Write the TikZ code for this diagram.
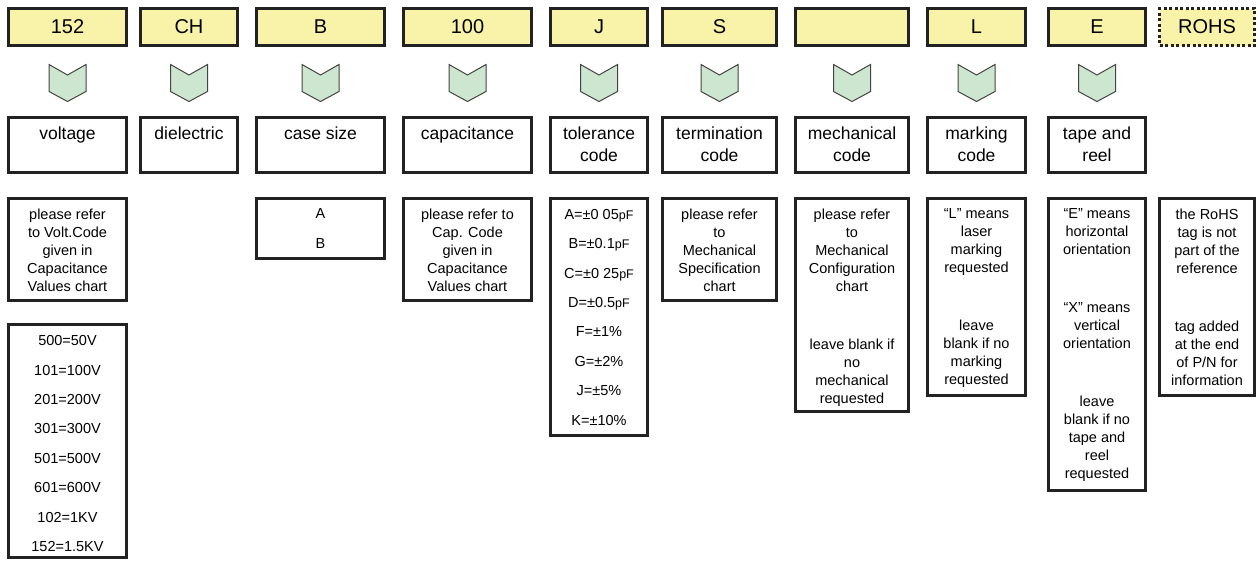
\documentclass[tikz,border=0pt]{standalone}
\usepackage{fontspec}
\setmainfont{Liberation Sans}
\usetikzlibrary{positioning, calc}

\definecolor{codeyellow}{RGB}{248,243,168}
\definecolor{arrowgreen}{RGB}{205,230,207}
\definecolor{edgegray}{RGB}{34,34,34}

\newcommand{\unitpf}{{\fontsize{12.5}{12.5}\selectfont pF}}

\tikzset{
	codebox/.style={draw=edgegray, line width=3pt, fill=codeyellow, minimum height=37pt, inner sep=0pt, font=\fontsize{20}{24}\selectfont},
	namebox/.style={draw=edgegray, line width=3pt, minimum height=55pt, inner sep=0pt},
	nametext/.style={align=center, inner sep=0pt, anchor=north, font=\fontsize{17.5}{22}\selectfont},
	infobox/.style={draw=edgegray, line width=3pt, inner sep=0pt},
	infotext/.style={align=center, inner sep=0pt, anchor=north, font=\fontsize{14.5}{18}\selectfont},
	listtext/.style={infotext, font=\fontsize{14.5}{29.4}\selectfont},
	chevron/.style={draw=edgegray!85, line width=1pt, fill=arrowgreen, line join=miter}
}

\begin{document}
\begin{tikzpicture}[x=1pt, y=-1pt]
	\useasboundingbox (0,0) rectangle (1258,560);
	
	% code boxes, chevrons and names
	\foreach \cx/\w/\code/\lbl [count=\i] in {67.5/118/152/voltage, 189/97/CH/dielectric,
		320.5/128/B/case size, 467.5/128/100/capacitance, 599/97/J/tolerance\\code,
		719.5/114/S/termination\\code, 852/113//mechanical\\code, 976.5/98/L/marking\\code,
		1097/97/E/tape and\\reel} {
		\node [codebox, minimum width=\w pt] (c\i) at (\cx,27) {\code};
		\node [namebox, minimum width=\w pt] (l\i) at (\cx,145) {};
		\node [nametext] (t\i) at ($(l\i.north)+(0,11)$) {\lbl};
		\draw [chevron] (c\i.south) ++(-18.5,17.5) -- ++(18.5,10.5) -- ++(18.5,-10.5)
		-- ++(0,27) -- ++(-18.5,10) -- ++(-18.5,-10) -- cycle;
	}
	\node [codebox, minimum width=95pt, dash pattern=on 3pt off 2.5pt] (c10) at (1207,27) {ROHS};
	
	% description boxes
	\node [infobox, minimum width=118pt, minimum height=102pt] (d1) at (67.5,249.5) {};
	\node [infobox, minimum width=118pt, minimum height=233pt] (v1) at (67.5,441) {};
	\node [infobox, minimum width=128pt, minimum height=60pt] (d3) at (320.5,228.5) {};
	\node [infobox, minimum width=128pt, minimum height=102pt] (d4) at (467.5,249.5) {};
	\node [infobox, minimum width=97pt, minimum height=237pt] (d5) at (599,317) {};
	\node [infobox, minimum width=114pt, minimum height=102pt] (d6) at (719.5,249.5) {};
	\node [infobox, minimum width=113pt, minimum height=213pt] (d7) at (852,305) {};
	\node [infobox, minimum width=98pt, minimum height=197pt] (d8) at (976.5,297) {};
	\node [infobox, minimum width=97pt, minimum height=292pt] (d9) at (1097,344.5) {};
	\node [infobox, minimum width=95pt, minimum height=197pt] (d10) at (1207,297) {};
	
	\node [infotext] at ($(d1.north)+(0,11.5)$)
	{please refer\\to Volt.Code\\given in\\Capacitance\\Values chart};
	\node [listtext] at ($(v1.north)+(0,12.3)$)
	{500=50V\\101=100V\\201=200V\\301=300V\\501=500V\\601=600V\\102=1KV\\152=1.5KV};
	\node [listtext] at ($(d3.north)+(0,11.6)$) {A\\B};
	\node [infotext] at ($(d4.north)+(0,11.5)$)
	{please refer to\\Cap. Code\\given in\\Capacitance\\Values chart};
	\node [listtext] at ($(d5.north)+(0,12)$)
	{A=±0 05\unitpf\\B=±0.1\unitpf\\C=±0 25\unitpf\\D=±0.5\unitpf\\F=±1\%\\G=±2\%\\J=±5\%\\K=±10\%};
	\node [infotext] at ($(d6.north)+(0,11.5)$)
	{please refer\\to\\Mechanical\\Specification\\chart};
	\node [infotext] at ($(d7.north)+(0,11.5)$)
	{please refer\\to\\Mechanical\\Configuration\\chart\\[40pt]leave blank if\\no\\mechanical\\requested};
	\node [infotext] at ($(d8.north)+(0,11.5)$)
	{“L” means\\laser\\marking\\requested\\[40pt]leave\\blank if no\\marking\\requested};
	\node [infotext] at ($(d9.north)+(0,11.5)$)
	{“E” means\\horizontal\\orientation\\[40pt]“X” means\\vertical\\orientation\\[40pt]leave\\blank if no\\tape and\\reel\\requested};
	\node [infotext] at ($(d10.north)+(0,11.5)$)
	{the RoHS\\tag is not\\part of the\\reference\\[40pt]tag added\\at the end\\of P/N for\\information};
\end{tikzpicture}
\end{document}
